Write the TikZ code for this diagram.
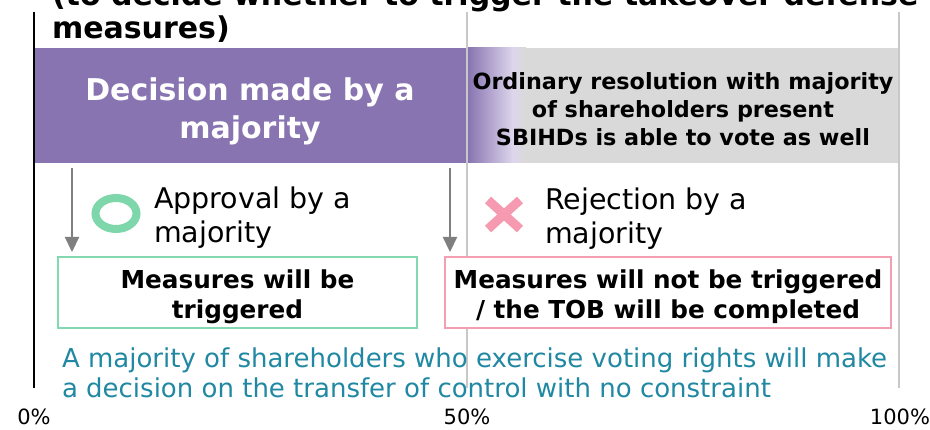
\documentclass[tikz,border=0pt]{standalone}
\usepackage{fontspec}
\setmainfont{DejaVu Sans}
\usetikzlibrary{arrows.meta,shapes.geometric,shapes.misc}
\definecolor{bandc}{HTML}{8874B0}
\definecolor{lavc}{HTML}{DDD6EC}
\definecolor{graybg}{HTML}{D9D9D9}
\definecolor{vlinec}{HTML}{C8C8C8}
\definecolor{arrowc}{HTML}{7F7F7F}
\definecolor{ringc}{HTML}{7ED6AB}
\definecolor{xc}{HTML}{F59AB0}
\definecolor{gboxc}{HTML}{84D8B0}
\definecolor{pboxc}{HTML}{F49EB2}
\definecolor{tealc}{HTML}{2088A2}
\tikzset{
  titletext/.style={font=\bfseries\fontsize{30}{34}\selectfont, anchor=base west},
  bandtext/.style={font=\bfseries\fontsize{30}{38}\selectfont, text=white, align=center},
  graytext/.style={font=\bfseries\fontsize{22.3}{28}\selectfont, text=black, align=center},
  lbltext/.style={font=\fontsize{28.5}{34}\selectfont, align=left, anchor=north west},
  boxtext/.style={font=\bfseries\fontsize{#1}{30}\selectfont, align=center},
  resultbox/.style={draw=#1, line width=2.5pt, fill=white, anchor=north west, minimum height=71pt},
  downarrow/.style={draw=arrowc, line width=2.2pt, -{Triangle[width=14pt,length=15pt]}},
  axisline/.style={draw=vlinec, line width=1.5pt},
  axislabel/.style={font=\fontsize{21}{24}\selectfont, anchor=base},
  notetext/.style={font=\fontsize{26}{30}\selectfont, text=tealc, align=left, anchor=north west},
}
\begin{document}
\begin{tikzpicture}[x=1pt,y=-1pt, every node/.style={inner sep=0pt, outer sep=0pt}]
\useasboundingbox (0,0) rectangle (930,430);
% title (partly cut off at the top)
\begin{scope}
\clip (0,0) rectangle (930,430);
\node[titletext] (title0) at (52,6) {(to decide whether to trigger the takeover defense};
\node[titletext] (title1) at (52,39) {measures)};
\end{scope}
% axis lines
\coordinate (l0t) at (34,12);   \coordinate (l0b) at (34,388);
\coordinate (l50t) at (467,12); \coordinate (l50b) at (467,388);
\coordinate (l100t) at (899,12); \coordinate (l100b) at (899,388);
\draw[axisline] (l50t) -- (l50b);
\draw[axisline] (l100t) -- (l100b);
\draw[line width=2pt] (l0t) -- (l0b);
% bands
\node[fill=bandc, anchor=north west, minimum width=431pt, minimum height=115pt] (band) at (35,48) {};
\node[fill=graybg, anchor=north west, minimum width=430pt, minimum height=115pt] (gband) at (468,48) {};
\shade[left color=bandc, right color=lavc] (468,48) rectangle (513,163);
\shade[left color=lavc, right color=graybg] (513,48) rectangle (526,163);
\node[bandtext] (bandlbl) at (250,111) {Decision made by a\\majority};
\node[graytext] (graylbl) at (683,109) {Ordinary resolution with majority\\of shareholders present\\SBIHDs is able to vote as well};
% outcomes
\node[draw=ringc, line width=8pt, ellipse, minimum width=41pt, minimum height=31pt] (okmark) at (116,213.5) {};
\node[cross out, draw=xc, line width=9pt, minimum width=32pt, minimum height=29pt] (nomark) at (504,214.5) {};
\node[lbltext] (appr) at (154,186.5) {Approval by a\\majority};
\node[lbltext] (rej) at (545,187.5) {Rejection by a\\majority};
% result boxes
\node[resultbox=gboxc, minimum width=359pt] (gbox) at (58,257) {};
\node[resultbox=pboxc, minimum width=446pt] (pbox) at (445,257) {};
\node[boxtext=24.7] (gtxt) at ([yshift=-4pt]gbox.center) {Measures will be\\triggered};
\node[boxtext=24.7] (ptxt) at ([yshift=-4pt]pbox.center) {Measures will not be triggered\\/ the TOB will be completed};
% arrows
\coordinate (a1) at (72,168);
\coordinate (a2) at (450,168);
\draw[downarrow] (a1) -- ([yshift=5pt]gbox.north -| a1);
\draw[downarrow] (a2) -- ([yshift=5pt]pbox.north -| a2);
% note
\node[notetext] (note) at (62,348) {A majority of shareholders who exercise voting rights will make\\a decision on the transfer of control with no constraint};
% axis labels
\node[axislabel] (p0) at (34,425) {0\%};
\node[axislabel] (p50) at (467,425) {50\%};
\node[axislabel] (p100) at (900,425) {100\%};
\end{tikzpicture}
\end{document}
